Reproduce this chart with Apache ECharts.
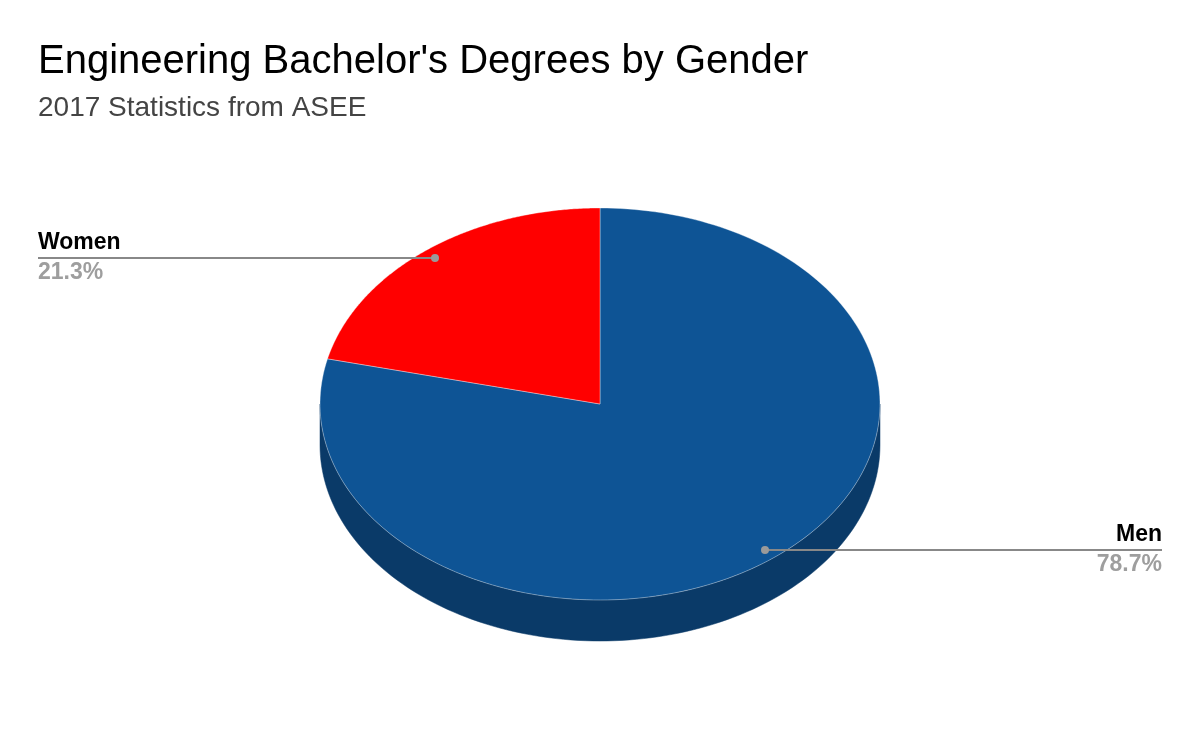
<!DOCTYPE html>
<html>
<head>
<meta charset="utf-8">
<script src="https://cdn.jsdelivr.net/npm/echarts@6/dist/echarts.min.js"></script>
<style>
html,body{margin:0;padding:0;background:#fff;}
#chart{width:1200px;height:742px;}
</style>
</head>
<body>
<div id="chart"></div>
<script>
// ---- data ----
const categories = ['Men', 'Women'];
const values = [78.7, 21.3];

// ---- styles ----
const topColors = ['#0e5495', '#ff0000'];
const sideColors = ['#0a3a68', '#a30000'];

const chart = echarts.init(document.getElementById('chart'), null, {renderer: 'canvas'});
const total = values.reduce((a, b) => a + b, 0);
const FONT = '"Liberation Sans", Arial, sans-serif';

function renderItem(params, api) {
  const idx = params.dataIndex;
  const W = api.getWidth();
  const cx = W / 2, cy = 404, rx = 280, ry = 196, depth = 41;
  let cum = 0;
  for (let i = 0; i < idx; i++) cum += values[i];
  const v = api.value(0);
  const a0 = -90 + cum / total * 360;
  const a1 = -90 + (cum + v) / total * 360;
  const rad = d => d * Math.PI / 180;
  const pt = (d, f, dy) => [cx + f * rx * Math.cos(rad(d)), cy + f * ry * Math.sin(rad(d)) + (dy || 0)];

  const children = [];
  // side face (front half only: angles 0..180 in screen coords)
  [[0, 180], [360, 540]].forEach(([s, e]) => {
    const lo = Math.max(a0, s), hi = Math.min(a1, e);
    if (hi > lo) {
      const pts = [];
      const n = 120;
      for (let k = 0; k <= n; k++) pts.push(pt(lo + (hi - lo) * k / n, 1, 0));
      for (let k = n; k >= 0; k--) pts.push(pt(lo + (hi - lo) * k / n, 1, depth));
      children.push({type: 'polygon', z2: 1, shape: {points: pts},
        style: {fill: sideColors[idx], stroke: sideColors[idx], lineWidth: 0.5}});
    }
  });
  // top face
  const topPts = [[cx, cy]];
  const n2 = 200;
  for (let k = 0; k <= n2; k++) topPts.push(pt(a0 + (a1 - a0) * k / n2, 1, 0));
  children.push({type: 'polygon', z2: 2, shape: {points: topPts},
    style: {fill: topColors[idx], stroke: 'rgba(255,255,255,0.35)', lineWidth: 1}});

  // label
  const mid = (a0 + a1) / 2;
  const dot = pt(mid, 0.95, 0);
  const left = Math.cos(rad(mid)) < 0;
  const lx = left ? 38 : W - 38;
  children.push({type: 'line', z2: 3, shape: {x1: dot[0], y1: dot[1], x2: lx, y2: dot[1]},
    style: {stroke: '#888888', lineWidth: 2}});
  children.push({type: 'circle', z2: 4, shape: {cx: dot[0], cy: dot[1], r: 4},
    style: {fill: '#9a9a9a'}});
  children.push({type: 'text', z2: 5, style: {
    text: categories[idx], x: lx, y: dot[1] - 4,
    align: left ? 'left' : 'right', verticalAlign: 'bottom',
    font: 'bold 23px ' + FONT, fill: '#000000'}});
  children.push({type: 'text', z2: 5, style: {
    text: (v / total * 100).toFixed(1) + '%', x: lx, y: dot[1] + 3,
    align: left ? 'left' : 'right', verticalAlign: 'top',
    font: 'bold 23px ' + FONT, fill: '#9e9e9e'}});
  return {type: 'group', children};
}

const option = {
  animation: false,
  backgroundColor: '#ffffff',
  title: {
    text: "Engineering Bachelor's Degrees by Gender",
    subtext: '2017 Statistics from ASEE',
    left: 33, top: 37,
    itemGap: 12,
    textStyle: {fontFamily: FONT, fontSize: 40, fontWeight: 'normal', color: '#000000'},
    subtextStyle: {fontFamily: FONT, fontSize: 28, color: '#444444'}
  },
  series: [{
    type: 'custom',
    coordinateSystem: 'none',
    renderItem: renderItem,
    data: values.map((v, i) => ({value: [v], name: categories[i]}))
  }]
};
chart.setOption(option);
</script>
</body>
</html>
